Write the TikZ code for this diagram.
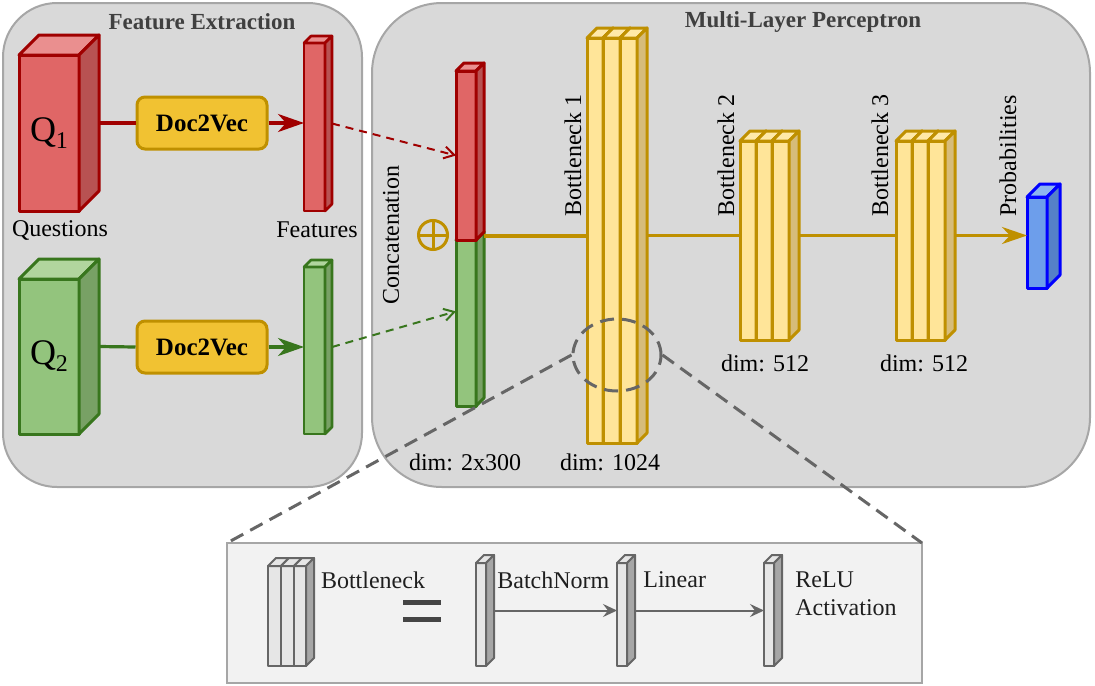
\documentclass[tikz,border=0pt]{standalone}
\usepackage{fontspec}
\setmainfont{Liberation Serif}
\usetikzlibrary{arrows.meta,calc,shapes.geometric}

\definecolor{redfront}{HTML}{E06666}
\definecolor{redtop}{HTML}{EA8F8F}
\definecolor{redside}{HTML}{B85252}
\definecolor{redline}{HTML}{A00000}
\definecolor{greenfront}{HTML}{93C47D}
\definecolor{greentop}{HTML}{B1D59E}
\definecolor{greenside}{HTML}{78A165}
\definecolor{greenline}{HTML}{38761D}
\definecolor{goldfront}{HTML}{FFE599}
\definecolor{goldtop}{HTML}{FFE9A8}
\definecolor{goldside}{HTML}{D6BC7A}
\definecolor{goldline}{HTML}{BF9000}
\definecolor{bluefront}{HTML}{6D9EEB}
\definecolor{bluetop}{HTML}{8DB5F0}
\definecolor{blueside}{HTML}{5580C8}
\definecolor{blueline}{HTML}{0000FF}
\definecolor{grayfront}{HTML}{E6E6E6}
\definecolor{graytop}{HTML}{E6E6E6}
\definecolor{grayside}{HTML}{A6A6A6}
\definecolor{grayline}{HTML}{666666}
\definecolor{dvfill}{HTML}{F1C232}
\definecolor{panelfill}{HTML}{D9D9D9}
\definecolor{panelline}{HTML}{A6A6A6}
\definecolor{boxfill}{HTML}{F2F2F2}
\definecolor{titlecol}{HTML}{404040}
\definecolor{dashgray}{HTML}{666666}

% #1 name, #2 x1, #3 y1, #4 x2, #5 y2, #6 depth, #7 colour prefix, #8 text
\newcommand\mycuboid[8]{%
  \node[inner sep=0pt, outer sep=0pt,
        minimum width={(#4-#2)*0.5pt}, minimum height={(#5-#3)*0.5pt},
        draw=#7line, fill=#7front, line width=\cubelw, line join=round]
        (#1) at ({(#2+#4)/2},{(#3+#5)/2}) {#8};
  \draw[draw=#7line, fill=#7top, line width=\cubelw, line join=round]
    (#1.north west) -- ++(#6,-#6) -- ++({#4-#2},0) -- (#1.north east) -- cycle;
  \draw[draw=#7line, fill=#7side, line width=\cubelw, line join=round]
    (#1.north east) -- ++(#6,-#6) -- ++(0,{#5-#3}) -- (#1.south east) -- cycle;
  \coordinate (#1-r) at ($(#1.east)+(#6,{-#6/2})$);
}

\begin{document}
\begin{tikzpicture}[x=0.5pt,y=-0.5pt,
  lbl/.style={font=\fontsize{12}{14}\selectfont, inner sep=0pt},
  title/.style={font=\bfseries\fontsize{11.5}{14}\selectfont, text=titlecol, inner sep=0pt},
  panel/.style={draw=panelline, fill=panelfill, line width=1pt, inner sep=0pt, outer sep=0pt},
  dvbox/.style={draw=goldline, fill=dvfill, line width=1.5pt, rounded corners=4pt,
     minimum width=65pt, minimum height=26pt, inner sep=0pt,
     font=\bfseries\fontsize{12.5}{14}\selectfont},
  redconn/.style={draw=redline, line width=1.6pt},
  greenconn/.style={draw=greenline, line width=1.6pt},
  bigtip/.style={-{Stealth[length=13pt,width=9pt,inset=4pt]}},
  reddash/.style={draw=redline, line width=1pt, dash pattern=on 4pt off 3pt,
     -{Straight Barb[length=5pt,width=6pt]}},
  greendash/.style={draw=greenline, line width=1pt, dash pattern=on 4pt off 3pt,
     -{Straight Barb[length=5pt,width=6pt]}},
  goldconn/.style={draw=goldline, line width=1.6pt},
  grayconn/.style={draw=grayline, line width=1pt, -{Stealth[length=7pt,width=6.5pt,inset=2.5pt]}},
  zoomline/.style={draw=dashgray, line width=1.5pt, dash pattern=on 7pt off 4pt},
  boxlbl/.style={font=\fontsize{12}{14}\selectfont, text=black!88, inner sep=0pt}
]
\useasboundingbox (0,0) rectangle (1095,685);

% panels
\node[panel, rounded corners=27pt, minimum width=179.5pt, minimum height=242pt]
  (fe) at (182.5,245) {};
\node[panel, rounded corners=35pt, minimum width=359pt, minimum height=242pt]
  (mlp) at (731,245) {};
\node[title] (fet) at (202,22) {Feature Extraction};
\node[title] (mlpt) at (803,22) {Multi-Layer Perceptron};

% feature extraction
\def\cubelw{1.5pt}
\mycuboid{q1}{19}{55}{79}{211}{20}{red}{\fontsize{18}{18}\selectfont Q\raisebox{-3.5pt}{\fontsize{12}{12}\selectfont 1}}
\mycuboid{q2}{19}{279}{79}{434}{20}{green}{\fontsize{18}{18}\selectfont Q\raisebox{-3.5pt}{\fontsize{12}{12}\selectfont 2}}
\def\cubelw{1.3pt}
\mycuboid{f1}{304}{43}{325}{211}{7}{red}{}
\mycuboid{f2}{304}{267}{325}{434}{7}{green}{}

\node[dvbox] (dv1) at (202,123) {Doc2Vec};
\node[dvbox] (dv2) at (202,347) {Doc2Vec};

\draw[redconn] (q1-r) -- (dv1.west);
\draw[redconn, bigtip] (dv1.east) -- (dv1.east -| f1.west);
\draw[greenconn] (q2-r) -- (dv2.west);
\draw[greenconn, bigtip] (dv2.east) -- (dv2.east -| f2.west);

\node[lbl] (lq) at (60,230) {Questions};
\node[lbl] (lf) at (317,230) {Features};

% concatenation
\def\cubelw{1.5pt}
\mycuboid{cg}{456}{240}{476}{406}{8}{green}{}
\mycuboid{cr}{456}{71}{476}{240}{8}{red}{}
\coordinate (catr) at ($(cr.south east)+(8,-4)$);

\draw[reddash] (f1-r) -- (cr.west);
\draw[greendash] (f2-r) -- ($(cg.north west)!0.43!(cg.south west)$);

\node[circle, draw=goldline, line width=1.5pt, minimum size=14.5pt, inner sep=0pt] (oplus) at (433,235) {};
\draw[goldline, line width=1.5pt] (oplus.north) -- (oplus.south) (oplus.west) -- (oplus.east);

\node[lbl, rotate=90] (lcat) at (391,235) {Concatenation};

% bottlenecks
\mycuboid{b1a}{587}{38}{603}{443}{10}{gold}{}
\mycuboid{b1b}{603}{38}{620}{443}{10}{gold}{}
\mycuboid{b1c}{620}{38}{637}{443}{10}{gold}{}
\mycuboid{b2a}{740}{141}{756}{340}{10}{gold}{}
\mycuboid{b2b}{756}{141}{772}{340}{10}{gold}{}
\mycuboid{b2c}{772}{141}{789}{340}{10}{gold}{}
\mycuboid{b3a}{896}{141}{912}{340}{10}{gold}{}
\mycuboid{b3b}{912}{141}{928}{340}{10}{gold}{}
\mycuboid{b3c}{928}{141}{945}{340}{10}{gold}{}
\mycuboid{prob}{1027}{197}{1047}{288}{13}{blue}{}

\draw[goldconn] (catr) -- (catr -| b1a.west);
\draw[goldconn] (b1c-r) -- (b1c-r -| b2a.west);
\draw[goldconn] (b2c-r) -- (b2c-r -| b3a.west);
\draw[goldconn, -{Stealth[length=12.5pt,width=8.5pt,inset=4pt]}] (b3c-r) -- (b3c-r -| prob.west);

\node[lbl, rotate=90, anchor=west] (lb1) at (573,217) {Bottleneck 1};
\node[lbl, rotate=90, anchor=west] (lb2) at (726,217) {Bottleneck 2};
\node[lbl, rotate=90, anchor=west] (lb3) at (880,217) {Bottleneck 3};
\node[lbl, rotate=90, anchor=west] (lpr) at (1008,217) {Probabilities};

\node[lbl] (d1) at (465,462) {dim: 2x300};
\node[lbl] (d2) at (610,462) {dim: 1024};
\node[lbl] (d3) at (765,363) {dim: 512};
\node[lbl] (d4) at (924,363) {dim: 512};

% bottom detail box
\node[draw=panelline, fill=boxfill, line width=1pt, minimum width=347.5pt, minimum height=70pt, inner sep=0pt, outer sep=0pt]
  (bot) at (574.5,613) {};
\def\cubelw{1pt}
\mycuboid{i1}{268}{566}{281}{666}{8}{gray}{}
\mycuboid{i2}{281}{566}{294}{666}{8}{gray}{}
\mycuboid{i3}{294}{566}{306}{666}{8}{gray}{}
\node[boxlbl] (lbn) at (373,580) {Bottleneck};
\draw[draw=black!73, line width=2.5pt] (403,602) -- (441,602) (403,619) -- (441,619);

\mycuboid{bn}{476}{563}{486}{666}{8}{gray}{}
\mycuboid{ln}{617}{563}{627}{666}{8}{gray}{}
\mycuboid{rl}{764}{563}{774}{666}{8}{gray}{}
\node[boxlbl, anchor=west] (lbatch) at (497,580) {BatchNorm};
\node[boxlbl, anchor=west] (llin) at (643,580) {Linear};
\node[boxlbl, anchor=west] (lrelu) at (795,580) {ReLU};
\node[boxlbl, anchor=west] (lact) at (795,608) {Activation};
\draw[grayconn] (bn-r) -- (bn-r -| ln.west);
\draw[grayconn] (ln-r) -- (ln-r -| rl.west);

% zoom indicator
\node[ellipse, draw=dashgray, line width=1.5pt, dash pattern=on 7pt off 4pt,
      minimum width=44pt, minimum height=36pt, inner sep=0pt] (zell) at (617,355) {};
\draw[zoomline] (zell.west) -- (bot.north west);
\draw[zoomline] (zell.east) -- (bot.north east);
\end{tikzpicture}
\end{document}
